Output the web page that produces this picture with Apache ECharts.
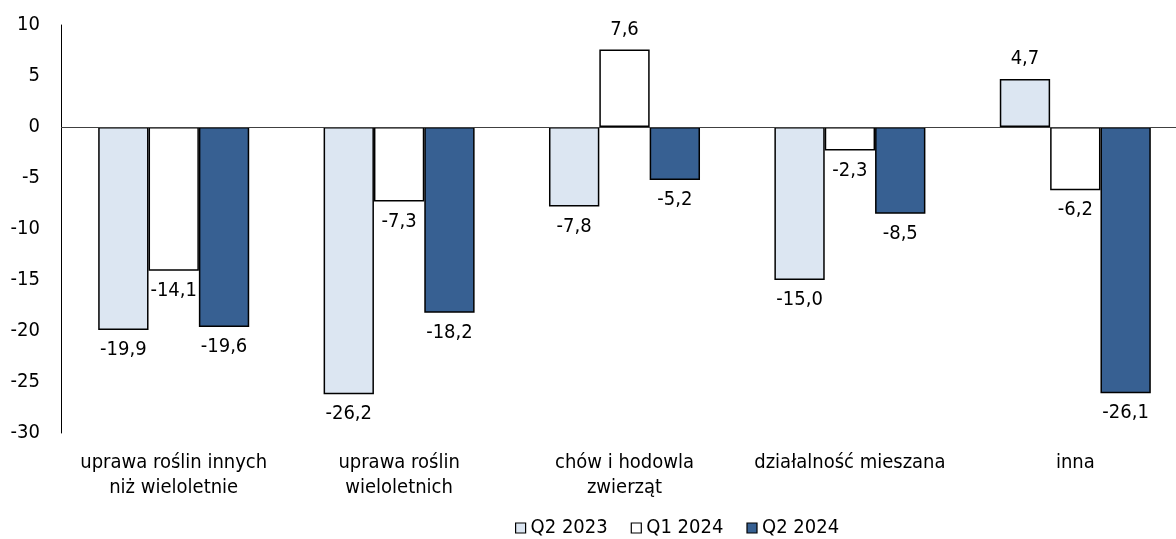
<!DOCTYPE html>
<html>
<head>
<meta charset="utf-8">
<script src="https://cdn.jsdelivr.net/npm/echarts@6/dist/echarts.min.js"></script>
<style>
html, body { margin: 0; padding: 0; background: #fff; }
#chart { width: 1176px; height: 539px; }
</style>
</head>
<body>
<div id="chart"></div>
<script>
var categories = ['uprawa roślin innych\nniż wieloletnie', 'uprawa roślin\nwieloletnich', 'chów i hodowla\nzwierząt', 'działalność mieszana', 'inna'];
var seriesNames = ['Q2 2023', 'Q1 2024', 'Q2 2024'];
var q2_2023 = [-19.9, -26.2, -7.8, -15.0, 4.7];
var q1_2024 = [-14.1, -7.3, 7.6, -2.3, -6.2];
var q2_2024 = [-19.6, -18.2, -5.2, -8.5, -26.1];

var font = '"DejaVu Sans Condensed", "DejaVu Sans", sans-serif';
var fs = 20;
var colors = ['#DCE6F2', '#FFFFFF', '#376092'];

function fmt(p) {
    return p.value.toFixed(1).replace('.', ',');
}

function makeSeries(name, data, color) {
    return {
        name: name,
        type: 'bar',
        // positive values get their label on top
        data: data.map(function (v) {
            return v >= 0 ? { value: v, label: { position: 'top' } } : { value: v };
        }),
        barGap: '0%',
        barCategoryGap: '33%',
        itemStyle: { color: color, borderColor: '#000', borderWidth: 1.5 },
        label: {
            show: true,
            position: 'bottom',
            distance: 10,
            fontFamily: font,
            fontSize: fs,
            color: '#000',
            formatter: fmt
        }
    };
}

var series = [
    makeSeries(seriesNames[0], q2_2023, colors[0]),
    makeSeries(seriesNames[1], q1_2024, colors[1]),
    makeSeries(seriesNames[2], q2_2024, colors[2])
];
// zero line
series[0].markLine = {
    silent: true,
    symbol: 'none',
    label: { show: false },
    lineStyle: { color: '#404040', width: 1, type: 'solid' },
    data: [{ yAxis: 0 }]
};

var myChart = echarts.init(document.getElementById('chart'));
var option = {
    animation: false,
    // plot area runs a little past the right edge, like the original
    grid: { left: 61, width: 1127, top: 25, bottom: 106, outerBoundsMode: 'none' },
    legend: {
        left: 510,
        top: 513,
        itemWidth: 10,
        itemHeight: 10,
        itemGap: 23,
        icon: 'rect',
        textStyle: { fontFamily: font, fontSize: fs, color: '#000' },
        itemStyle: { borderColor: '#000', borderWidth: 1.2 },
        data: seriesNames
    },
    xAxis: {
        type: 'category',
        data: categories,
        axisLine: { show: false, onZero: false },
        axisTick: { show: false },
        axisLabel: {
            fontFamily: font,
            fontSize: fs,
            color: '#000',
            margin: 17,
            lineHeight: 25,
            interval: 0
        }
    },
    yAxis: {
        type: 'value',
        min: -30,
        max: 10,
        interval: 5,
        axisLine: { show: true, lineStyle: { color: '#000', width: 1 } },
        axisTick: { show: false },
        splitLine: { show: false },
        axisLabel: { fontFamily: font, fontSize: fs, color: '#000', margin: 21 }
    },
    series: series
};
myChart.setOption(option);
</script>
</body>
</html>
